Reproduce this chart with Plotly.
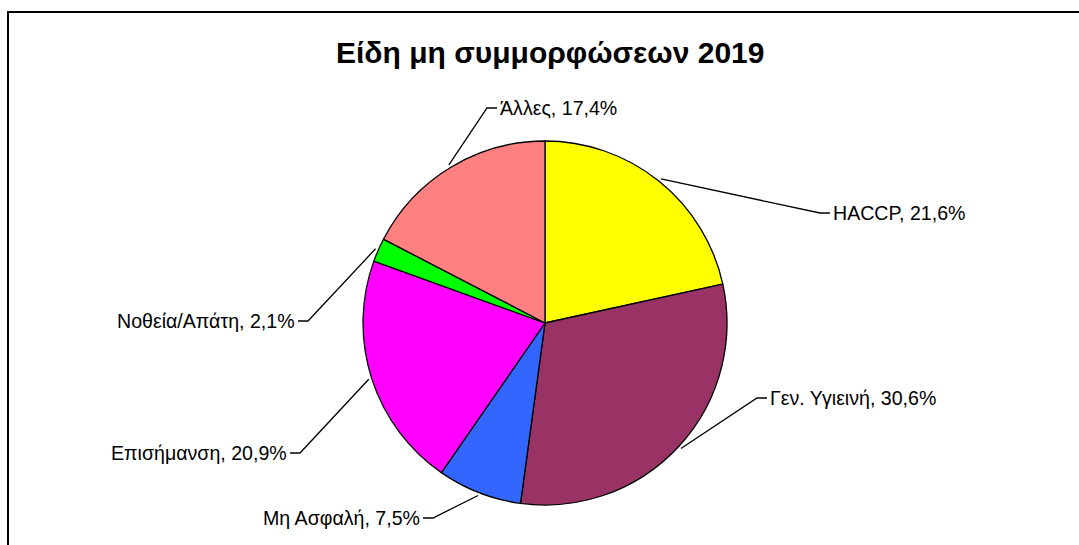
import math
import plotly.graph_objects as go

# ---- data ----
labels = ["HACCP", "Γεν. Υγιεινή", "Μη Ασφαλή", "Επισήμανση", "Νοθεία/Απάτη", "Άλλες"]
values = [21.6, 30.6, 7.5, 20.9, 2.1, 17.4]
colors = ["#FFFF00", "#993366", "#3366FF", "#FF00FF", "#00FF00", "#FF8080"]
title_text = "Είδη μη συμμορφώσεων 2019"

# ---- layout / style (pixels) ----
W, H = 1079, 545
CX, CY, R = 545, 323, 182
# label elbow positions (px) and side of text relative to elbow
label_style = [
    (820, 213, "left"),
    (757, 398, "left"),
    (433, 518, "right"),
    (300, 453, "right"),
    (308, 321, "right"),
    (487, 108, "left"),
]
DASH = 10
FONT = "Arial, Liberation Sans, sans-serif"

def px(x):
    return x / W

def py(y):
    return 1 - y / H

fig = go.Figure(go.Pie(
    labels=labels,
    values=values,
    sort=False,
    direction="clockwise",
    rotation=0,
    textinfo="none",
    hoverinfo="label+percent",
    marker=dict(colors=colors, line=dict(color="black", width=1.3)),
    domain=dict(x=[px(CX - R), px(CX + R)], y=[py(CY + R), py(CY - R)]),
    showlegend=False,
))

shapes = []
annotations = []
total = sum(values)
cum = 0.0
for lab, v, (ex, ey, side) in zip(labels, values, label_style):
    mid = (cum + v / 2) / total * 2 * math.pi
    cum += v
    sx = CX + (R + 3) * math.sin(mid)
    sy = CY - (R + 3) * math.cos(mid)
    tx = ex + DASH if side == "left" else ex - DASH
    shapes.append(dict(type="path", xref="paper", yref="paper",
                       path=f"M {px(sx)},{py(sy)} L {px(ex)},{py(ey)} L {px(tx)},{py(ey)}",
                       line=dict(color="black", width=1.3)))
    txt = f"{lab}, {str(v).replace('.', ',')}%"
    annotations.append(dict(x=px(tx + (1 if side == "left" else -1)), y=py(ey), xref="paper", yref="paper",
                            text=txt, showarrow=False,
                            xanchor=side, yanchor="middle",
                            font=dict(family=FONT, size=19.6, color="black")))

annotations.append(dict(x=px(550), y=py(52), xref="paper", yref="paper",
                        text=f"<b>{title_text}</b>", showarrow=False,
                        xanchor="center", yanchor="middle",
                        font=dict(family=FONT, size=30, color="black")))

# chart frame
shapes.append(dict(type="rect", xref="paper", yref="paper",
                   x0=px(8), x1=px(W + 20), y0=py(H + 20), y1=py(12),
                   line=dict(color="black", width=2), fillcolor="rgba(0,0,0,0)"))

fig.update_layout(
    width=W, height=H,
    margin=dict(l=0, r=0, t=0, b=0),
    paper_bgcolor="white", plot_bgcolor="white",
    shapes=shapes, annotations=annotations,
    font=dict(family=FONT),
)

fig.write_html("out.html", config={"displayModeBar": False},
               post_script="document.body.style.margin='0';document.body.style.overflow='hidden';")
